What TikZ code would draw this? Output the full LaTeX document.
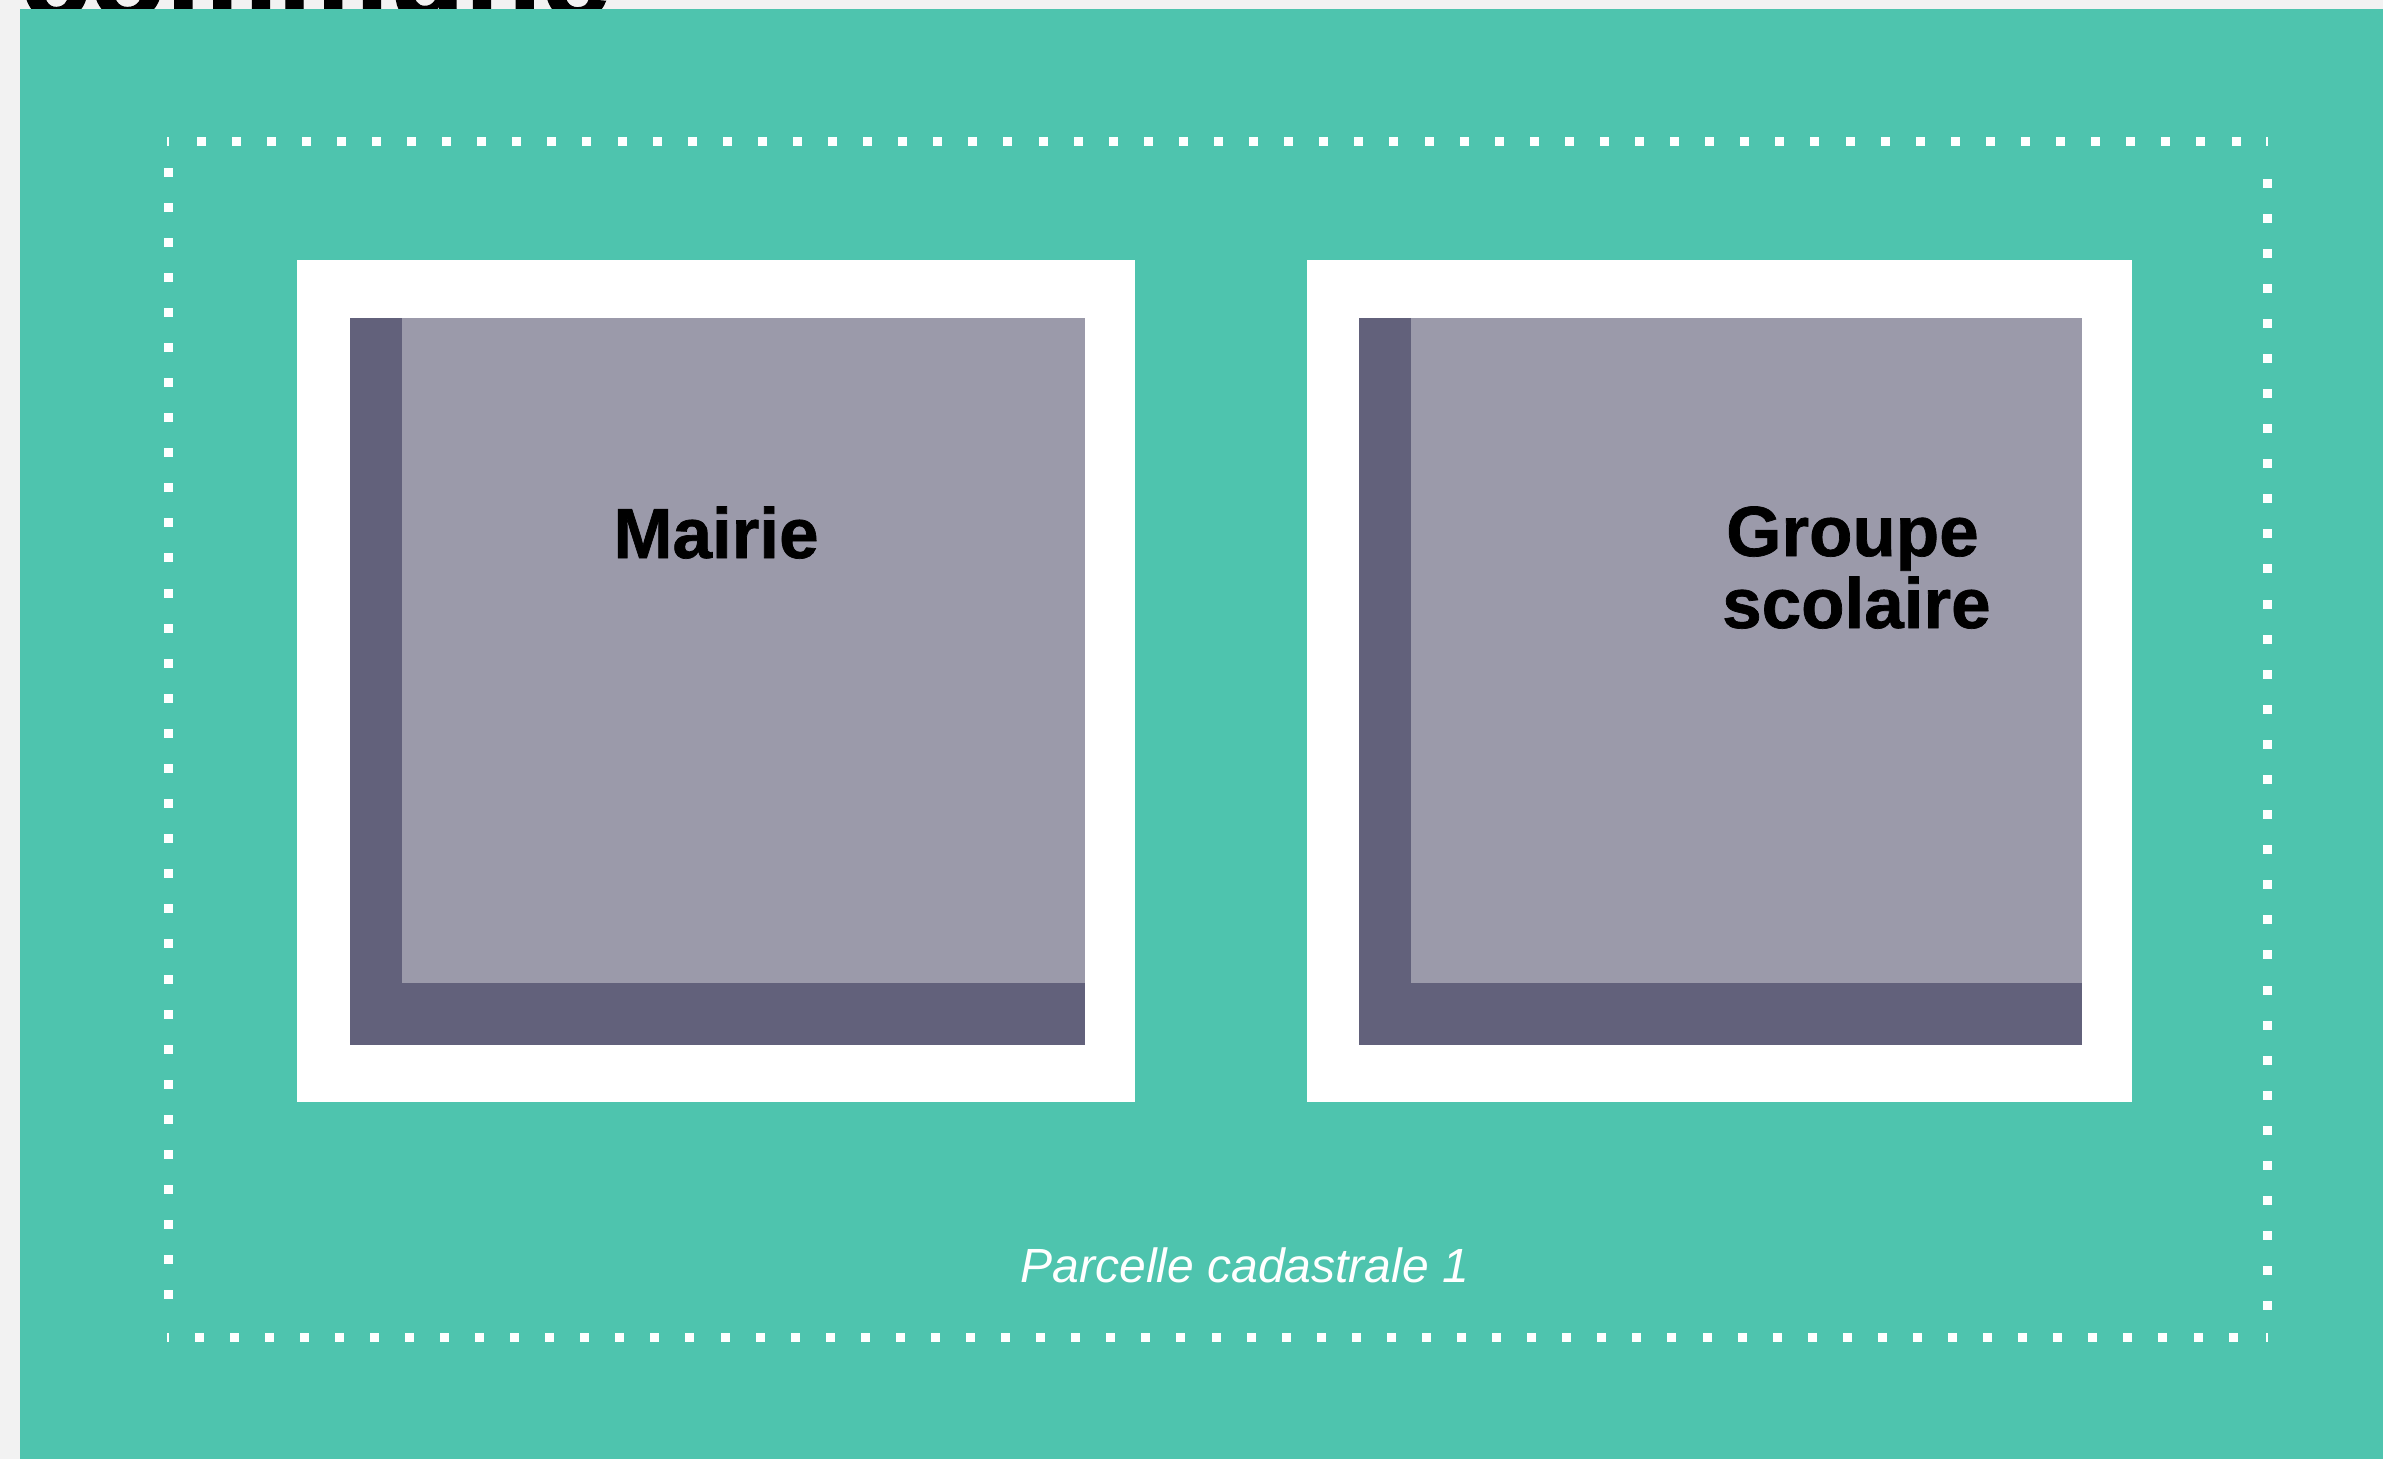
\documentclass[tikz,border=0pt]{standalone}
\usepackage{fontspec}
\setmainfont{Liberation Sans}
\newfontfamily\lourde[FakeBold=1]{Liberation Sans Bold}
\definecolor{terrain}{HTML}{4EC4AE}
\definecolor{fond}{HTML}{F2F2F2}
\definecolor{batclair}{HTML}{9B9AAA}
\definecolor{batfonce}{HTML}{62617B}
\begin{document}
\begin{tikzpicture}[x=1pt,y=-1pt,
  mur/.style={fill=white},
  sol/.style={fill=batfonce},
  toit/.style={fill=batclair},
  pointille/.style={fill=white},
  etiquette/.style={inner sep=0pt, text=black, font=\fontsize{71}{72}\selectfont\lourde},
  parcelle/.style={inner sep=0pt, text=white, font=\fontsize{48}{50}\selectfont\itshape}]
\useasboundingbox (0,0) rectangle (2383,1459);
\clip (0,0) rectangle (2383,1459);
\fill[fond] (0,0) rectangle (2383,1459);
\node[anchor=base west, inner sep=0pt, font=\fontsize{125}{125}\selectfont\lourde] (titre) at (20,18) {commune};
\fill[terrain] (20,9) rectangle (2383,1459);
% dotted parcel boundary
\foreach \i in {0,...,58} {
  \fill[pointille] ({201+\i*35.086-4.5},136.5) rectangle ++(9,9);
  \fill[pointille] ({199+\i*35.07-4.5},1332.5) rectangle ++(9,9);
}
\foreach \i in {0,...,32} {
  \fill[pointille] (163.5,{172+\i*35.09-4.5}) rectangle ++(9,9);
  \fill[pointille] (2262.5,{183+\i*35.09-4.5}) rectangle ++(9,9);
}
\foreach \cx/\cy in {168/141, 168/1337, 2267/141, 2267/1337}
  \fill[pointille] ({\cx-1},{\cy-4.5}) rectangle ++(2,9);
% Mairie
\fill[mur] (297,260) rectangle (1135,1102);
\fill[sol] (350,318) rectangle (1085,1045);
\fill[toit] (402,318) rectangle (1085,983);
\node[etiquette, anchor=base] (mairie) at (716,558) {Mairie};
% Groupe scolaire
\fill[mur] (1307,260) rectangle (2132,1102);
\fill[sol] (1359,318) rectangle (2082,1045);
\fill[toit] (1411,318) rectangle (2082,983);
\node[etiquette, anchor=base west] (groupe) at (1726,556) {Groupe};
\node[etiquette, anchor=base west] (scolaire) at (1722,628) {scolaire};
% label
\node[parcelle, anchor=base] (parc) at (1245,1282) {Parcelle cadastrale 1};
\end{tikzpicture}
\end{document}
